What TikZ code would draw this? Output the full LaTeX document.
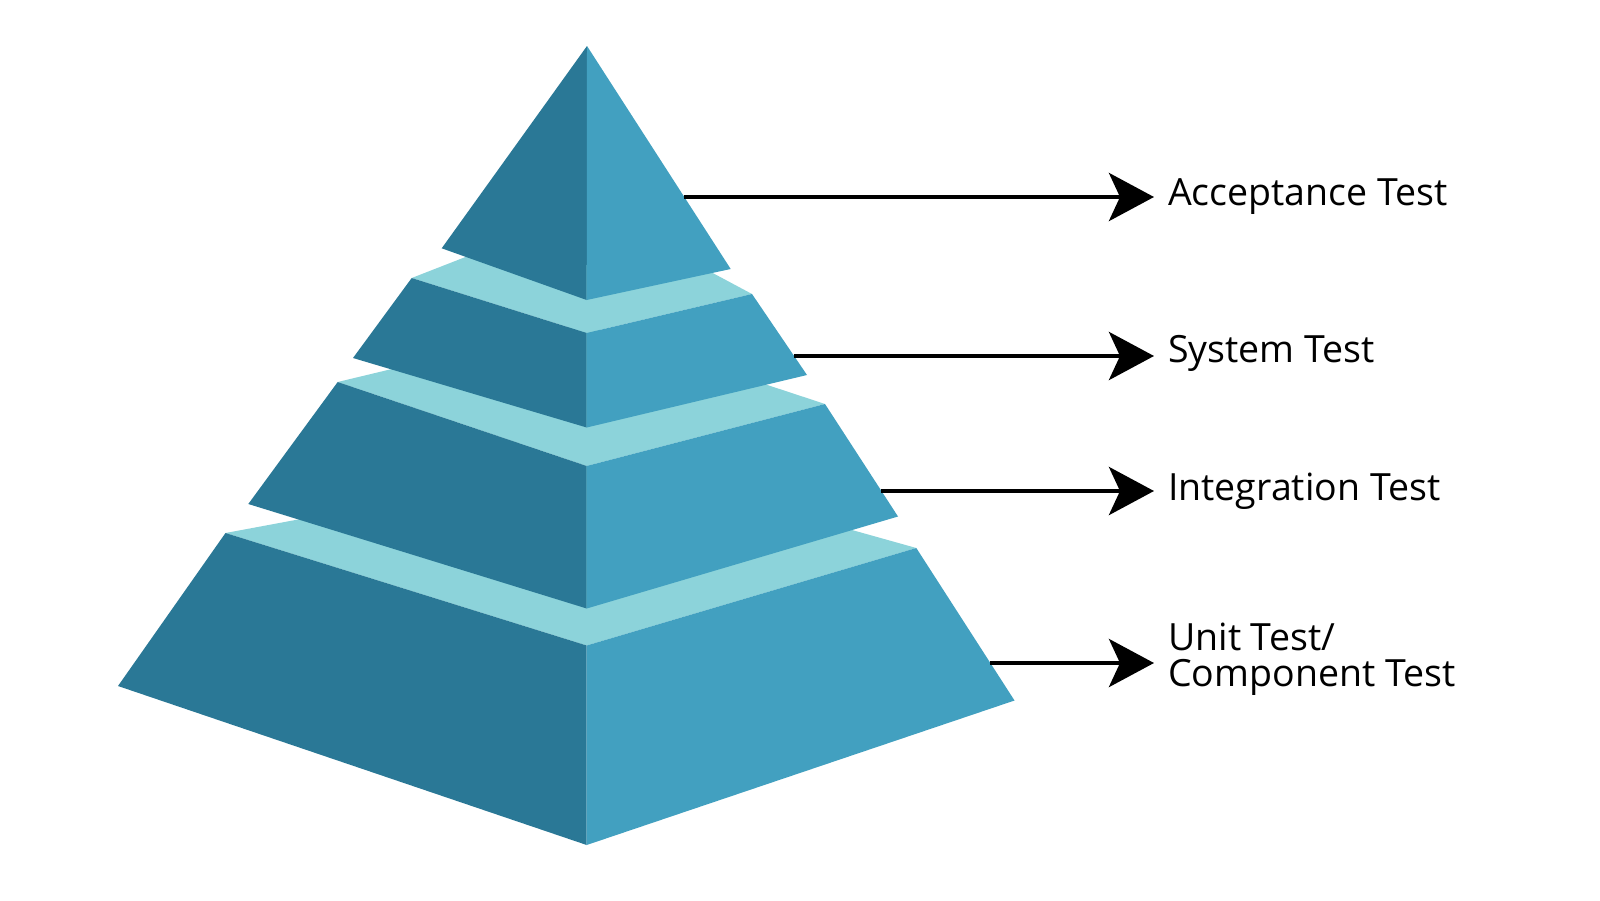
\documentclass[tikz,border=0pt]{standalone}
\usepackage{fontspec}
\setmainfont{Open Sans}
\usetikzlibrary{arrows.meta,calc}
\definecolor{facedark}{HTML}{2A7896}
\definecolor{faceright}{HTML}{42A0C0}
\definecolor{facetop}{HTML}{8CD3DA}
\tikzset{
  darkface/.style={fill=facedark},
  rightface/.style={fill=faceright},
  topface/.style={fill=facetop},
  pointer/.style={line width=4.5pt,-{Stealth[length=45pt,width=48pt,inset=11pt]}},
  label/.style={anchor=base west,inner sep=0pt,font=\fontsize{37.5}{36}\selectfont,align=left}
}
\begin{document}
\begin{tikzpicture}[x=1pt,y=-1pt]
\useasboundingbox (0,0) rectangle (1600,900);
\fill[white] (0,0) rectangle (1600,900);
% tier 4 (bottom)
\coordinate (L4) at (225.5,533);
\coordinate (F4) at (586.7,645.5);
\coordinate (R4) at (916.3,548);
\coordinate (K4) at (608.4,461.8);
\coordinate (BL4) at (118,686);
\coordinate (BF4) at (586.7,845);
\coordinate (BR4) at (1014.5,700.5);
% tier 3
\coordinate (L3) at (337.7,382);
\coordinate (F3) at (586.7,466);
\coordinate (R3) at (825,404);
\coordinate (K3) at (581.2,323.6);
\coordinate (BL3) at (248.3,504);
\coordinate (BF3) at (586.7,608.5);
\coordinate (BR3) at (898,516.5);
% tier 2
\coordinate (L2) at (411.7,278);
\coordinate (F2) at (586.7,333);
\coordinate (R2) at (752,294);
\coordinate (K2) at (591,208);
\coordinate (BL2) at (353,358);
\coordinate (BF2) at (586.7,427.5);
\coordinate (BR2) at (807,375);
% tier 1 (top)
\coordinate (A) at (587,46);
\coordinate (L1) at (441.7,248.3);
\coordinate (F1) at (586.7,300);
\coordinate (R1) at (730.7,269);

\fill[topface] (L4) -- (F4) -- (R4) -- (K4) -- cycle;
\fill[darkface] (L4) -- (F4) -- (BF4) -- (BL4) -- cycle;
\fill[rightface] (F4) -- (R4) -- (BR4) -- (BF4) -- cycle;

\fill[topface] (L3) -- (F3) -- (R3) -- (K3) -- cycle;
\fill[darkface] (L3) -- (F3) -- (BF3) -- (BL3) -- cycle;
\fill[rightface] (F3) -- (R3) -- (BR3) -- (BF3) -- cycle;

\fill[topface] (L2) -- (F2) -- (R2) -- (K2) -- cycle;
\fill[darkface] (L2) -- (F2) -- (BF2) -- (BL2) -- cycle;
\fill[rightface] (F2) -- (R2) -- (BR2) -- (BF2) -- cycle;

\fill[darkface] (A) -- (L1) -- (F1) -- cycle;
\fill[rightface] (A) -- (F1) -- (R1) -- cycle;

% arrow start points on the right edges
\coordinate (s1) at ($(A)!0.677!(R1)$);
\coordinate (s2) at ($(R2)!0.765!(BR2)$);
\coordinate (s3) at ($(R3)!0.773!(BR3)$);
\coordinate (s4) at ($(R4)!0.754!(BR4)$);
\coordinate (e1) at (1154,197);
\coordinate (e2) at (1154,356);
\coordinate (e3) at (1154,491);
\coordinate (e4) at (1154,663);

\draw[pointer] (s1 |- e1) -- (e1);
\draw[pointer] (s2 |- e2) -- (e2);
\draw[pointer] (s3 |- e3) -- (e3);
\draw[pointer] (s4 |- e4) -- (e4);

\node[label] (t1) at (1168,205) {Acceptance Test};
\node[label] (t2) at (1168,362) {System Test};
\node[label] (t3) at (1168,500) {Integration Test};
\node[label] (t4) at (1168,686) {Unit Test/\\Component Test};
\end{tikzpicture}
\end{document}
